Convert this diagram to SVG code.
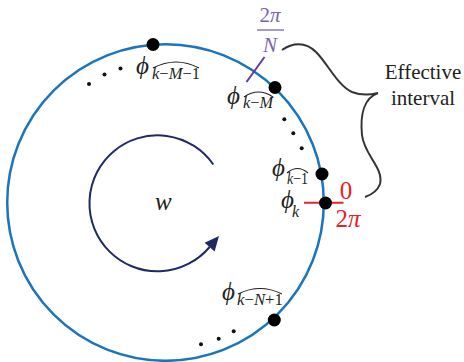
<svg xmlns="http://www.w3.org/2000/svg" width="464" height="362" viewBox="0 0 464 362">
<style>
text{font-family:'Liberation Serif','Times New Roman','DejaVu Serif',serif}
.phi{font-style:italic;font-size:25px;fill:#231f20}
.sub{font-style:italic;font-size:16px;fill:#231f20}
.up{font-style:normal}
.hat{fill:none;stroke:#231f20;stroke-width:1.1}
.dot{fill:#000}
.sdot{fill:#111}
.lbl{font-size:21px;fill:#231f20}
.red{font-size:25px;fill:#e8202a}
.pur{font-size:21px;fill:#7b62b8}
</style>
<rect width="464" height="362" fill="#fff"/>
<g id="ring">
<circle cx="165.5" cy="202.5" r="158.3" fill="none" stroke="#1b75bc" stroke-width="2.5"/>
</g>
<g id="connectors">
<path d="M213.3,164.5 A68,68 0 1 0 209.6,247" fill="none" stroke="#1f2a63" stroke-width="2"/>
<polygon points="219,236 214.6,251.4 204.6,242.8" fill="#1f2a63"/>
<line x1="246.5" y1="82" x2="264.5" y2="57" stroke="#5e3c9e" stroke-width="2"/>
<line x1="304" y1="202.8" x2="343.5" y2="202.8" stroke="#e8202a" stroke-width="2"/>
<path d="M282,50 C292,43 305,41 316,52 C328,64 338,86 352,92 C362,96 370,95 378,93 C364,98 360,115 362,135 C364,155 384,168 380,184 C377,192 371,195 365,197" fill="none" stroke="#333" stroke-width="2"/>
</g>
<g id="w-label">
<text x="155" y="210" class="phi" font-size="28">w</text>
</g>
<g id="node-k-M-1">
<circle cx="153" cy="44.5" r="6.5" class="dot"/>
<text x="136" y="74" class="phi">ϕ</text>
<text x="152" y="79" class="sub" textLength="48" lengthAdjust="spacingAndGlyphs">k<tspan class="up">−</tspan>M<tspan class="up">−1</tspan></text>
<path d="M153,68 Q176,56 199,68" class="hat"/>
<circle cx="89" cy="84" r="2" class="sdot"/>
<circle cx="104.5" cy="74.5" r="2" class="sdot"/>
<circle cx="120.5" cy="68.5" r="2" class="sdot"/>
</g>
<g id="node-k-M">
<circle cx="275" cy="87.5" r="6.5" class="dot"/>
<text x="227" y="104" class="phi">ϕ</text>
<text x="243" y="108" class="sub" textLength="30" lengthAdjust="spacingAndGlyphs">k<tspan class="up">−</tspan>M</text>
<path d="M244,97 Q258.5,87 273,97" class="hat"/>
<circle cx="284.3" cy="119.3" r="2" class="sdot"/>
<circle cx="293.3" cy="133.3" r="2" class="sdot"/>
<circle cx="301.7" cy="148.3" r="2" class="sdot"/>
</g>
<g id="node-k-1">
<circle cx="322" cy="174" r="6.5" class="dot"/>
<text x="272" y="176" class="phi">ϕ</text>
<text x="287" y="184" class="sub" textLength="21" lengthAdjust="spacingAndGlyphs">k<tspan class="up">−1</tspan></text>
<path d="M287,173 Q297.5,164 308,173" class="hat"/>
</g>
<g id="node-k">
<circle cx="325.5" cy="203" r="6.5" class="dot"/>
<text x="281" y="208" class="phi">ϕ</text>
<text x="292" y="217" class="sub">k</text>
<text x="346" y="199" class="red" text-anchor="middle">0</text>
<text x="348" y="227" class="red" text-anchor="middle">2<tspan font-style="italic">π</tspan></text>
</g>
<g id="node-k-N+1">
<circle cx="274.3" cy="320" r="6.5" class="dot"/>
<text x="222" y="300" class="phi">ϕ</text>
<text x="237" y="305" class="sub" textLength="46" lengthAdjust="spacingAndGlyphs">k<tspan class="up">−</tspan>N<tspan class="up">+1</tspan></text>
<path d="M238,294 Q260,283 282,294" class="hat"/>
<circle cx="201" cy="344.3" r="2" class="sdot"/>
<circle cx="218.7" cy="338.7" r="2" class="sdot"/>
<circle cx="233.7" cy="331.3" r="2" class="sdot"/>
</g>
<g id="fraction">
<text x="270" y="22" class="pur" text-anchor="middle">2<tspan font-style="italic">π</tspan></text>
<line x1="257" y1="30" x2="284" y2="30" stroke="#7b62b8" stroke-width="1.3"/>
<text x="270" y="52" class="pur" text-anchor="middle" font-style="italic">N</text>
</g>
<g id="effective-label">
<text x="423" y="79" class="lbl" text-anchor="middle">Effective</text>
<text x="423" y="105" class="lbl" text-anchor="middle">interval</text>
</g>
</svg>
